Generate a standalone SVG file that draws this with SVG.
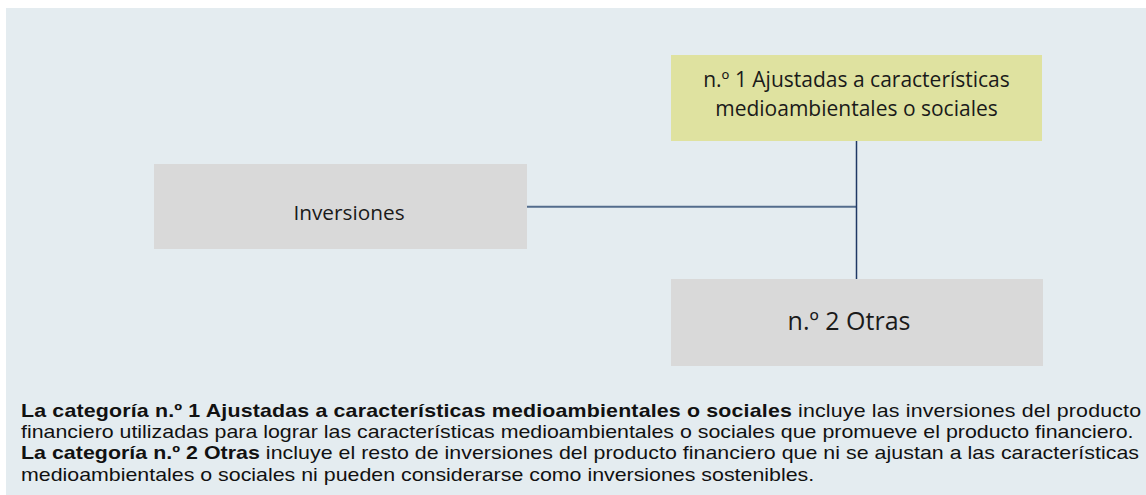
<svg xmlns="http://www.w3.org/2000/svg" width="1146" height="495" viewBox="0 0 1146 495">
<style>
.box{fill:#d9d9d9}
.yel{fill:#dfe2a0}
.lbl{font-family:"Open Sans","Noto Sans",sans-serif;fill:#1a1a1a;text-anchor:middle}
.note{font-family:"Liberation Sans",Arial,sans-serif;font-size:18px;fill:#111}
.b{font-weight:bold}
</style>
<rect x="0" y="0" width="1146" height="495" fill="#ffffff"/>
<rect x="6" y="8" width="1140" height="487" fill="#e4ecf0"/>
<g id="connectors">
<line x1="527" y1="206.8" x2="856.5" y2="206.8" stroke="#536c8c" stroke-width="2"/>
<line x1="856.5" y1="141" x2="856.5" y2="279" stroke="#1f3864" stroke-width="1.5"/>
</g>
<g id="node-inversiones">
<rect class="box" x="154" y="164" width="373" height="85"/>
<text class="lbl" x="349" y="220" font-size="20.8">Inversiones</text>
</g>
<g id="node-ajustadas">
<rect class="yel" x="671" y="55" width="371" height="86"/>
<text class="lbl" x="856.5" y="87" font-size="21">n.º 1 Ajustadas a características</text>
<text class="lbl" x="856.5" y="116" font-size="21">medioambientales o sociales</text>
</g>
<g id="node-otras">
<rect class="box" x="671" y="279" width="372" height="87"/>
<text class="lbl" x="849" y="330" font-size="25">n.º 2 Otras</text>
</g>
<g id="note" transform="translate(21,0) scale(1.187,1)">
<text class="note" x="0" y="416.7" textLength="943.6" lengthAdjust="spacing"><tspan class="b">La categoría n.º 1 Ajustadas a características medioambientales o sociales</tspan> incluye las inversiones del producto</text>
<text class="note" x="0" y="438.3">financiero utilizadas para lograr las características medioambientales o sociales que promueve el producto financiero.</text>
<text class="note" x="0" y="459.3" textLength="941.9" lengthAdjust="spacing"><tspan class="b">La categoría n.º 2 Otras</tspan> incluye el resto de inversiones del producto financiero que ni se ajustan a las características</text>
<text class="note" x="0" y="480.7">medioambientales o sociales ni pueden considerarse como inversiones sostenibles.</text>
</g>
</svg>
